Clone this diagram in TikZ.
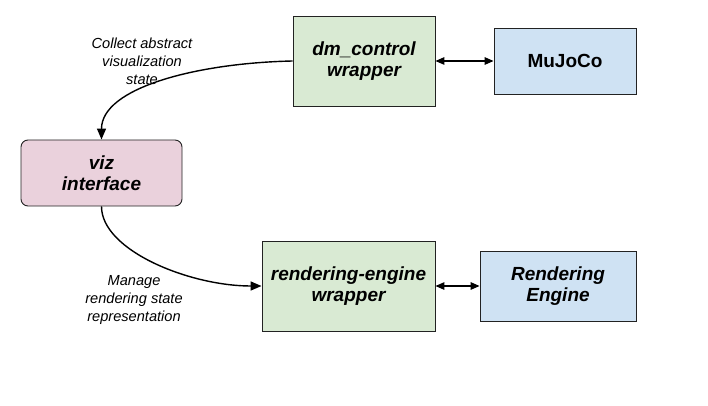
\documentclass[tikz,border=0pt]{standalone}
\usepackage{fontspec}
\setmainfont{Liberation Sans}
\usepackage{xcolor}
\usepackage{tikz}
\usetikzlibrary{arrows.meta,calc}
\definecolor{wrapgreen}{HTML}{D9EAD3}
\definecolor{engblue}{HTML}{CFE2F3}
\definecolor{vizpink}{HTML}{EAD1DC}
\definecolor{edgegray}{HTML}{222222}
\tikzset{
  box/.style={draw=edgegray, line width=0.9pt, align=center, inner sep=0pt,
    font=\fontsize{19}{21.5}\selectfont\bfseries\itshape},
  wrapbox/.style={box, fill=wrapgreen},
  engbox/.style={box, fill=engblue},
  vizbox/.style={box, fill=vizpink, rounded corners=7pt},
  flow/.style={line width=1.4pt, -{Triangle[length=11pt,width=9pt]}},
  link/.style={line width=1.4pt, {Triangle[length=9pt,width=7.5pt]}-{Triangle[length=9pt,width=7.5pt]}},
  note/.style={align=center, font=\fontsize{14.6}{17.8}\selectfont\itshape}
}
\begin{document}
\begin{tikzpicture}[x=1pt,y=-1pt]
\useasboundingbox (0,0) rectangle (708,406);
% boxes
\node[wrapbox, minimum width=142pt, minimum height=90pt] (dm) at (364,61) {dm\_control\\wrapper};
\node[engbox, minimum width=142pt, minimum height=66pt, font=\fontsize{19}{21.5}\selectfont\bfseries] (mujoco) at (565,61) {MuJoCo};
\node[vizbox, minimum width=161pt, minimum height=66pt] (viz) at (101.5,173) {viz\\interface};
\node[wrapbox, minimum width=173pt, minimum height=90pt] (rew) at (348.5,286) {rendering-engine\\wrapper};
\node[engbox, minimum width=156pt, minimum height=70pt] (re) at (558,286) {Rendering\\Engine};
% connectors
\draw[flow] (dm.west) .. controls +(-95,2) and +(0,-52) .. (viz.north);
\draw[flow] (viz.south) .. controls +(0,44) and +(-72,0) .. (rew.west);
\draw[link] (dm.east) -- (mujoco.west);
\draw[link] (rew.east) -- (re.west);
% labels
\node[note] (collect) at (142,61) {Collect abstract\\visualization\\state};
\node[note] (manage) at (134,300) {Manage\\rendering state\\representation};
\end{tikzpicture}
\end{document}
